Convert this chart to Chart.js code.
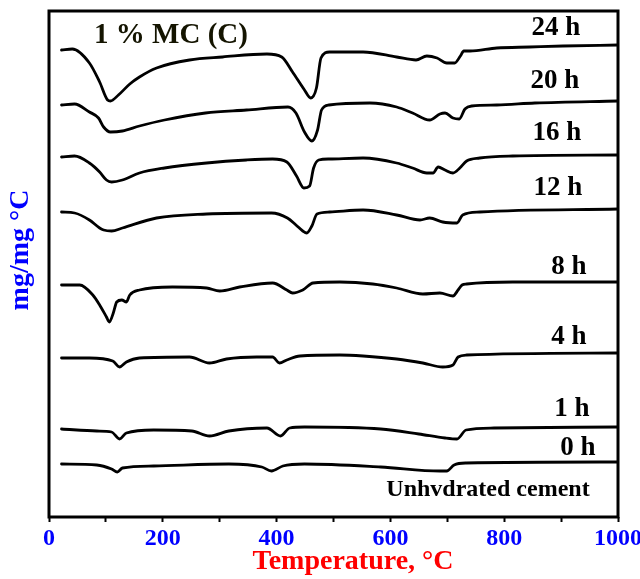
<!DOCTYPE html>
<html><head><meta charset="utf-8">
<script src="https://cdn.jsdelivr.net/npm/chart.js@4.4.1/dist/chart.umd.min.js"></script>
<style>
html,body{margin:0;padding:0;background:#fff;overflow:hidden;width:640px;height:579px}
#wrap{position:relative;width:660px;height:579px}
canvas{display:block}
</style></head><body>
<div id="wrap"><canvas id="c" width="660" height="579"></canvas></div>
<script>
// Temperature (°C) and DTG signal (arbitrary, stacked units) for each curve
const t24=[22,41,71,89,103,108,122,142,159,189,247,305,383,409,428,449,460,470,478,493,552,611,645,664,682,699,713,723,729,740,787,845,903,1000];
const v24=[46.7,46.8,45.4,43.5,41.7,41.6,42.2,43.3,44.0,44.9,45.7,46.0,46.3,46.0,44.5,42.7,41.9,42.9,45.9,46.5,46.5,46.0,45.7,46.1,45.9,45.4,45.4,46.1,46.6,46.6,46.9,47.0,47.1,47.2];

const t20=[22,45,71,87,96,108,129,159,203,275,347,420,434,449,462,472,479,492,564,611,639,669,687,696,710,721,731,743,787,854,1000];
const v20=[41.2,41.3,40.5,39.9,39.0,38.5,38.6,39.1,39.7,40.4,40.7,41.0,40.4,38.5,37.6,38.7,40.7,41.2,41.4,41.0,40.4,39.7,40.3,40.4,39.9,39.8,40.8,41.1,41.2,41.4,41.6];

const t16=[22,45,71,89,101,110,129,159,203,277,347,393,418,435,448,458,465,474,493,552,611,639,664,675,684,696,710,722,734,757,815,1000];
const v16=[36.0,36.1,35.4,34.5,33.7,33.5,33.7,34.4,34.9,35.4,35.7,35.8,35.5,34.1,32.9,33.1,34.9,35.7,35.8,35.9,35.4,34.9,34.4,34.4,35.0,34.7,34.4,34.9,35.6,35.9,36.1,36.2];

const t12=[22,45,71,89,96,110,129,189,277,391,419,434,446,453,462,471,493,552,611,652,669,692,717,727,757,1000];
const v12=[30.5,30.4,29.7,28.9,28.7,28.6,28.9,29.9,30.3,30.4,29.9,29.2,28.6,28.4,29.1,30.3,30.5,30.7,30.2,29.7,29.9,29.5,29.4,30.2,30.5,30.8];

const t8=[22,54,77,89,101,106,113,119,128,136,142,159,217,277,300,335,393,418,428,446,464,511,569,611,657,687,710,719,726,734,815,1000];
const v8=[23.2,23.2,22.2,21.2,20.0,19.5,20.4,21.5,21.7,21.5,22.2,22.7,23.0,22.9,22.6,23.0,23.4,22.7,22.4,22.7,23.4,23.5,23.3,22.9,22.3,22.4,22.1,22.7,23.2,23.3,23.5,23.5];

const t4=[22,71,112,124,136,159,247,282,312,365,393,405,418,441,511,552,611,657,692,710,719,734,1000];
const v4=[15.9,15.9,15.6,15.0,15.5,15.9,16.0,15.4,15.8,16.0,16.0,15.4,15.7,16.1,16.2,16.1,15.8,15.4,15.0,15.2,16.0,16.2,16.4];

const t1=[22,84,110,124,136,184,251,282,316,383,407,423,449,583,650,696,717,733,782,1000];
const v1=[8.8,8.6,8.5,7.8,8.4,8.7,8.6,8.1,8.6,8.9,8.1,8.9,9.0,8.8,8.3,7.9,7.8,8.7,8.9,9.0];

const t0=[22,84,110,120,129,184,316,374,391,411,449,583,687,699,712,733,1000];
const v0=[5.3,5.2,4.8,4.5,4.9,5.1,5.3,5.0,4.6,5.1,5.3,5.0,4.6,4.6,5.2,5.4,5.5];

const seriesNames=['24 h','20 h','16 h','12 h','8 h','4 h','1 h','0 h'];
const xTicks=[0,200,400,600,800,1000];

const temps=[t24,t20,t16,t12,t8,t4,t1,t0];
const vals=[v24,v20,v16,v12,v8,v4,v1,v0];

const datasets=temps.map((t,k)=>({
  label:seriesNames[k],
  data:t.map((x,i)=>({x:x,y:vals[k][i]})),
  borderColor:'#000',
  borderWidth:2.8,
  pointRadius:0,
  fill:false,
  cubicInterpolationMode:'monotone',
  borderJoinStyle:'round',
  borderCapStyle:'round'
}));

// annotation layout (pixel positions for text)
const notes=[
  {text:'1 % MC (C)',x:171,y:36,size:29,color:'#141400'},
  {text:'24 h',x:556,y:28,size:27,color:'#000'},
  {text:'20 h',x:555,y:81,size:27,color:'#000'},
  {text:'16 h',x:557,y:133,size:27,color:'#000'},
  {text:'12 h',x:558,y:188,size:27,color:'#000'},
  {text:'8 h',x:569,y:267,size:27,color:'#000'},
  {text:'4 h',x:569,y:337,size:27,color:'#000'},
  {text:'1 h',x:572,y:409,size:27,color:'#000'},
  {text:'0 h',x:578,y:448,size:27,color:'#000'},
  {text:'Unhvdrated cement',x:488,y:490,size:24,color:'#000'}
];

const deco={
  id:'deco',
  afterDatasetsDraw(chart){
    const {ctx,chartArea:a}=chart;
    ctx.save();
    ctx.lineWidth=3;
    ctx.strokeStyle='#000';
    ctx.strokeRect(a.left,a.top,a.right-a.left,a.bottom-a.top);
    ctx.textAlign='center';
    ctx.textBaseline='middle';
    notes.forEach(n=>{
      ctx.font='bold '+n.size+'px "Liberation Serif", "Times New Roman", serif';
      ctx.fillStyle=n.color;
      ctx.fillText(n.text,n.x,n.y);
    });
    // x axis title
    ctx.font='bold 28px "Liberation Serif", "Times New Roman", serif';
    ctx.fillStyle='#ff0000';
    ctx.fillText('Temperature, °C',353,562);
    // y axis title
    ctx.translate(21,250);
    ctx.rotate(-Math.PI/2);
    ctx.fillStyle='#0000ff';
    ctx.fillText('mg/mg °C',0,0);
    ctx.restore();
  }
};

new Chart(document.getElementById('c'),{
  type:'line',
  data:{datasets:datasets},
  options:{
    responsive:false,
    devicePixelRatio:1,
    animation:false,
    layout:{padding:{left:49,top:11,right:42,bottom:0}},
    plugins:{legend:{display:false},tooltip:{enabled:false}},
    scales:{
      x:{
        type:'linear',min:0,max:1000,
        afterFit(s){s.height=62;},
        border:{display:false},
        grid:{display:true,drawOnChartArea:false,drawTicks:true,tickLength:5,tickWidth:2,tickColor:'#000'},
        ticks:{
          stepSize:100,autoSkip:false,maxRotation:0,padding:2,
          color:'#0000ff',
          font:{family:'"Liberation Serif", "Times New Roman", serif',size:24,weight:'bold'},
          callback:(v)=>xTicks.includes(v)?String(v):''
        }
      },
      y:{display:false,min:0,max:50.6}
    }
  },
  plugins:[deco]
});
</script>
</body></html>
